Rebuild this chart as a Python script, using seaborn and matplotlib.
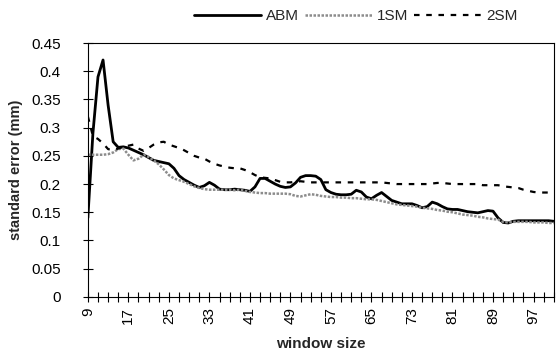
import matplotlib
matplotlib.use('Agg')
import matplotlib.pyplot as plt
from matplotlib.ticker import MultipleLocator, FixedLocator
import numpy as np
import pandas as pd
import seaborn as sns

# window sizes 9..101
window = list(range(9, 102))

abm = [0.14, 0.29, 0.39, 0.42, 0.34, 0.275, 0.265, 0.266, 0.264, 0.26,
       0.256, 0.252, 0.247, 0.242, 0.24, 0.238, 0.236, 0.228, 0.215, 0.208,
       0.203, 0.198, 0.194, 0.197, 0.203, 0.198, 0.191, 0.19, 0.19, 0.191,
       0.19, 0.189, 0.187, 0.195, 0.21, 0.21, 0.205, 0.2, 0.196, 0.194,
       0.195, 0.202, 0.212, 0.215, 0.215, 0.214, 0.208, 0.19, 0.185, 0.182,
       0.181, 0.181, 0.182, 0.189, 0.186, 0.177, 0.174, 0.18, 0.185, 0.178,
       0.171, 0.168, 0.165, 0.165, 0.165, 0.162, 0.158, 0.16, 0.168, 0.165,
       0.16, 0.156, 0.155, 0.155, 0.153, 0.151, 0.15, 0.149, 0.151, 0.153,
       0.152, 0.14, 0.132, 0.131, 0.134, 0.135, 0.135, 0.135, 0.135, 0.135,
       0.135, 0.135, 0.134]

sm1 = [0.252, 0.252, 0.252, 0.252, 0.253, 0.256, 0.262, 0.263, 0.252, 0.242,
       0.245, 0.252, 0.248, 0.242, 0.235, 0.226, 0.216, 0.21, 0.207, 0.204,
       0.2, 0.196, 0.193, 0.191, 0.19, 0.19, 0.19, 0.19, 0.19, 0.189,
       0.19, 0.188, 0.186, 0.185, 0.184, 0.184, 0.183, 0.183, 0.183, 0.183,
       0.182, 0.179, 0.178, 0.18, 0.182, 0.181, 0.179, 0.178, 0.177, 0.177,
       0.176, 0.176, 0.175, 0.175, 0.174, 0.173, 0.173, 0.172, 0.17, 0.168,
       0.166, 0.164, 0.163, 0.162, 0.161, 0.16, 0.158, 0.157, 0.156, 0.154,
       0.153, 0.151, 0.15, 0.148, 0.146, 0.145, 0.144, 0.142, 0.141, 0.139,
       0.138, 0.137, 0.133, 0.132, 0.133, 0.133, 0.133, 0.133, 0.132, 0.132,
       0.132, 0.131, 0.131]

sm2 = [0.32, 0.285, 0.28, 0.272, 0.262, 0.26, 0.263, 0.266, 0.268, 0.27,
       0.263, 0.259, 0.264, 0.27, 0.274, 0.275, 0.27, 0.267, 0.264, 0.26,
       0.255, 0.25, 0.247, 0.245, 0.24, 0.236, 0.233, 0.231, 0.229, 0.228,
       0.228, 0.225, 0.221, 0.216, 0.212, 0.211, 0.21, 0.207, 0.204, 0.203,
       0.203, 0.204, 0.205, 0.204, 0.203, 0.203, 0.203, 0.203, 0.203, 0.203,
       0.203, 0.203, 0.203, 0.203, 0.203, 0.203, 0.203, 0.203, 0.203, 0.202,
       0.201, 0.2, 0.2, 0.2, 0.2, 0.2, 0.2, 0.2, 0.201, 0.202,
       0.202, 0.201, 0.2, 0.2, 0.2, 0.2, 0.2, 0.2, 0.198, 0.198,
       0.198, 0.198, 0.196, 0.195, 0.194, 0.193, 0.19, 0.188, 0.186, 0.185,
       0.185, 0.185, 0.185]

xlabels = list(range(9, 98, 8))


def main():
    sns.set_style('ticks')
    plt.rcParams['font.family'] = ['Liberation Sans', 'DejaVu Sans']

    fig = plt.figure(figsize=(5.56, 3.53), dpi=100)
    ax = fig.add_axes([0.158, 0.159, 0.838, 0.719])

    df = pd.DataFrame({'window': window, 'ABM': abm, '1SM': sm1, '2SM': sm2})

    sns.lineplot(x='window', y='ABM', data=df, ax=ax, color='black',
                 linewidth=2.0, label='ABM')
    sns.lineplot(x='window', y='1SM', data=df, ax=ax, color='#8c8c8c',
                 linewidth=1.8, linestyle=(0, (1, 0.6)), label='1SM')
    sns.lineplot(x='window', y='2SM', data=df, ax=ax, color='black',
                 linewidth=1.6, linestyle=(0, (2.5, 3)), label='2SM')

    ax.set_xlim(9, 101)
    ax.set_ylim(0, 0.45)
    ax.xaxis.set_major_locator(FixedLocator(xlabels))
    ax.xaxis.set_minor_locator(MultipleLocator(2, offset=1))
    ax.set_xticklabels([str(v) for v in xlabels], rotation=90, fontsize=11)
    ax.set_yticks(np.arange(0, 0.451, 0.05))
    ax.set_yticklabels(['0', '0.05', '0.1', '0.15', '0.2', '0.25', '0.3',
                        '0.35', '0.4', '0.45'], fontsize=11)
    ax.tick_params(axis='both', which='both', direction='inout', length=7,
                   width=0.8, colors='black')
    ax.tick_params(axis='y', pad=16)
    ax.tick_params(axis='x', pad=4)

    for s in ax.spines.values():
        s.set_linewidth(0.8)
        s.set_color('black')

    ax.set_xlabel('window size', fontsize=11, fontweight='bold', labelpad=9)
    ax.set_ylabel('standard error (mm)', fontsize=10.5, fontweight='bold',
                  labelpad=6)

    ax.legend(loc='lower center', bbox_to_anchor=(0.575, 1.055), ncol=3,
              frameon=False, fontsize=11, handlelength=4.4, columnspacing=0.4,
              handletextpad=0.3, borderaxespad=0)

    fig.savefig('out.png', dpi=100)


if __name__ == '__main__':
    main()
